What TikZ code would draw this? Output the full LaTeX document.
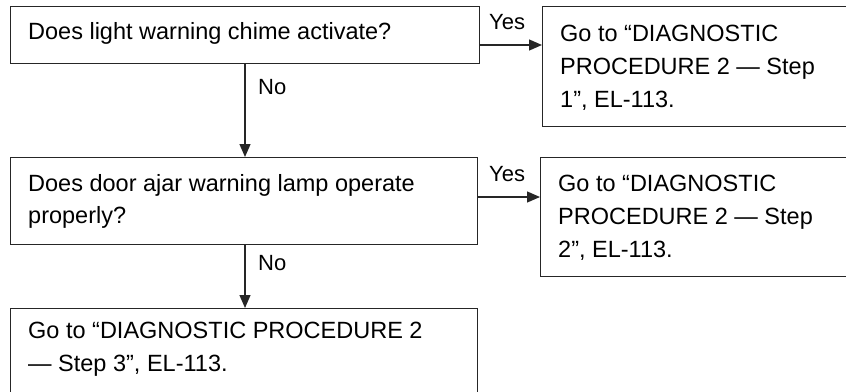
\documentclass[tikz,border=0pt]{standalone}
\usepackage{fontspec}
\setmainfont{Liberation Sans}
\usetikzlibrary{arrows.meta}
\begin{document}
\begin{tikzpicture}[x=1pt,y=-1pt,
  box/.style={draw=black!85,line width=1.3pt,rectangle,inner sep=0pt,anchor=north west},
  txt/.style={anchor=base west,inner sep=0pt,font=\fontsize{23.5}{33}\selectfont,text=black},
  lbl/.style={anchor=base west,inner sep=0pt,font=\fontsize{22}{28}\selectfont,text=black},
  arr/.style={draw=black!85,line width=1.3pt,-{Triangle[length=13pt,width=11pt]}}]
\useasboundingbox (0,0) rectangle (846,391);
\clip (0,0) rectangle (846,391);
% boxes
\node[box,minimum width=469pt,minimum height=57pt] (q1) at (10,6) {};
\node[box,minimum width=320pt,minimum height=120pt] (r1) at (542,6) {};
\node[box,minimum width=467pt,minimum height=87pt] (q2) at (10,157) {};
\node[box,minimum width=320pt,minimum height=119pt] (r2) at (540,157) {};
\node[box,minimum width=467pt,minimum height=100pt] (e3) at (10,308) {};
% texts
\node[txt] (t1) at (28,39) {Does light warning chime activate?};
\node[txt] (t2a) at (560,41) {Go to “DIAGNOSTIC};
\node[txt] (t2b) at (560,74) {PROCEDURE 2 — Step};
\node[txt] (t2c) at (560,107) {1”, EL-113.};
\node[txt] (t3a) at (28,191) {Does door ajar warning lamp operate};
\node[txt] (t3b) at (28,223) {properly?};
\node[txt] (t4a) at (558,191) {Go to “DIAGNOSTIC};
\node[txt] (t4b) at (558,224) {PROCEDURE 2 — Step};
\node[txt] (t4c) at (558,257) {2”, EL-113.};
\node[txt] (t5a) at (28,338) {Go to “DIAGNOSTIC PROCEDURE 2};
\node[txt] (t5b) at (28,371) {— Step 3”, EL-113.};
% connectors
\coordinate (y1) at (0,45);
\coordinate (y2) at (0,197);
\coordinate (x1) at (245,0);
\draw[arr] (q1.east |- y1) -- (r1.west |- y1);
\draw[arr] (q2.east |- y2) -- (r2.west |- y2);
\draw[arr] (q1.south -| x1) -- (q2.north -| x1);
\draw[arr] (q2.south -| x1) -- (e3.north -| x1);
% labels
\node[lbl] (yes1) at (489,29) {Yes};
\node[lbl] (yes2) at (489,181) {Yes};
\node[lbl] (no1) at (258,94) {No};
\node[lbl] (no2) at (258,270) {No};
\end{tikzpicture}
\end{document}
